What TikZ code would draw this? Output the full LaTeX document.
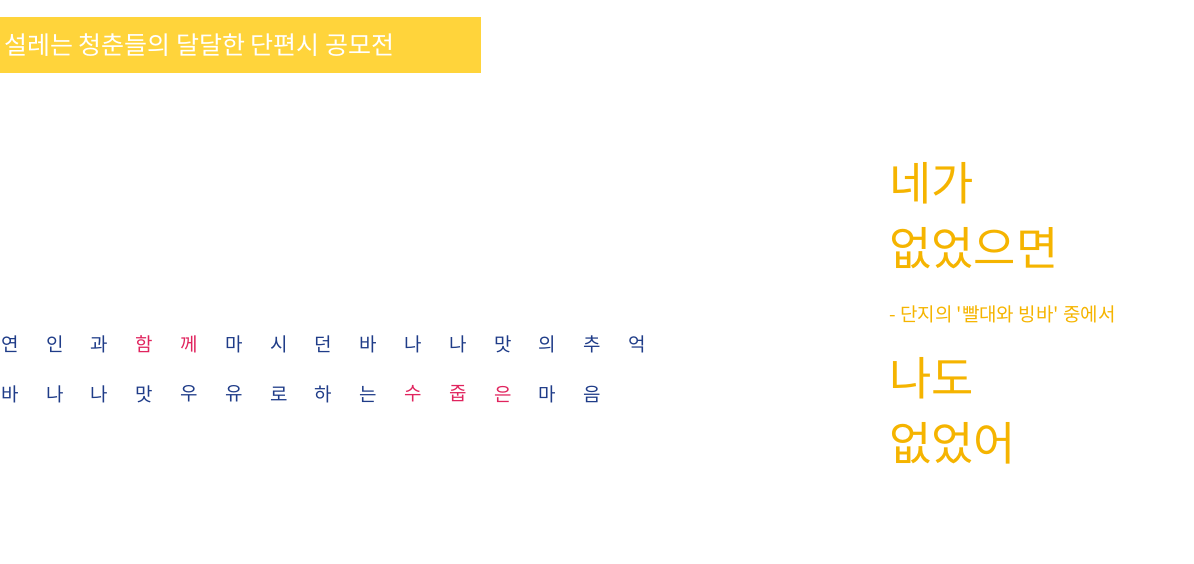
\documentclass[tikz,border=0pt]{standalone}
\usepackage{fontspec}
\newfontfamily\kr{Noto Sans CJK KR}
\definecolor{hdr}{HTML}{FFD43B}
\definecolor{navy}{HTML}{1F3C88}
\definecolor{pinkred}{HTML}{E0245E}
\definecolor{gold}{HTML}{F5B400}
\begin{document}
\begin{tikzpicture}[x=1pt,y=-1pt,
  ch/.style={font=\kr\fontsize{19}{19}\selectfont,text=navy,inner sep=0pt},
  hl/.style={ch,text=pinkred},
  big/.style={font=\kr\fontsize{46}{46}\selectfont,text=gold,anchor=west,inner sep=0pt}]
\useasboundingbox (0,0) rectangle (1194,563);
\fill[hdr] (0,17) rectangle (481,73);
\node[font=\kr\fontsize{25}{25}\selectfont,text=white,anchor=west,inner sep=0pt] (title) at (4,45) {설레는 청춘들의 달달한 단편시 공모전};
\foreach \c [count=\i from 0] in {연,인,과,함,께,마,시,던,바,나,나,맛,의,추,억}{
  \pgfmathsetmacro\xx{10+44.8*\i}
  \ifnum\i=3 \node[hl] (a\i) at (\xx,344) {\c};
  \else\ifnum\i=4 \node[hl] (a\i) at (\xx,344) {\c};
  \else \node[ch] (a\i) at (\xx,344) {\c};\fi\fi
}
\foreach \c [count=\i from 0] in {바,나,나,맛,우,유,로,하,는,수,줍,은,마,음}{
  \pgfmathsetmacro\xx{10+44.8*\i}
  \ifnum\i>8 \ifnum\i<12 \node[hl] (b\i) at (\xx,394) {\c};
  \else \node[ch] (b\i) at (\xx,394) {\c};\fi
  \else \node[ch] (b\i) at (\xx,394) {\c};\fi
}
\node[big] (l1) at (889,183) {네가};
\node[big] (l2) at (889,248) {없었으면};
\node[font=\kr\fontsize{19}{19}\selectfont,text=gold,anchor=west,inner sep=0pt] (src) at (889,314) {- 단지의 '빨대와 빙바' 중에서};
\node[big] (l3) at (889,378) {나도};
\node[big] (l4) at (889,443) {없었어};
\end{tikzpicture}
\end{document}
